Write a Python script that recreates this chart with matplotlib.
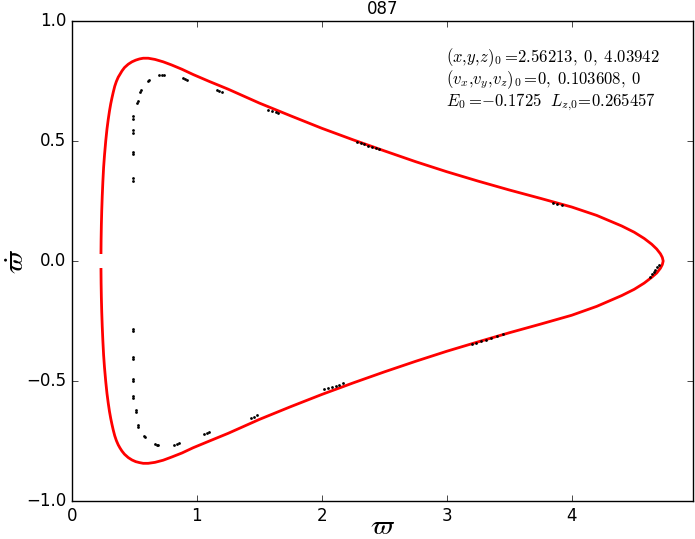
import matplotlib
matplotlib.use("Agg")
import matplotlib.pyplot as plt

# zero-velocity curve, upper branch (left end -> right tip)
upper_w = [0.232, 0.233, 0.235, 0.238, 0.242, 0.247, 0.253, 0.260, 0.270, 0.280,
           0.290, 0.300, 0.310, 0.320, 0.330, 0.342, 0.355, 0.370, 0.384, 0.400,
           0.420, 0.450, 0.480, 0.510, 0.540, 0.570, 0.610, 0.664, 0.730, 0.797,
           0.880, 0.970, 1.10, 1.25, 1.50, 1.75, 2.00, 2.25, 2.50, 2.75,
           3.00, 3.25, 3.50, 3.75, 4.00, 4.20, 4.40, 4.50, 4.58, 4.64,
           4.68, 4.71, 4.725, 4.732]
upper_wdot = [0.035, 0.09, 0.15, 0.21, 0.27, 0.33, 0.39, 0.44, 0.50, 0.55,
              0.59, 0.625, 0.655, 0.68, 0.703, 0.728, 0.748, 0.766, 0.778, 0.792,
              0.806, 0.820, 0.830, 0.837, 0.842, 0.845, 0.845, 0.840, 0.830, 0.817,
              0.799, 0.777, 0.748, 0.716, 0.658, 0.605, 0.553, 0.505, 0.459, 0.414,
              0.372, 0.333, 0.296, 0.261, 0.225, 0.190, 0.146, 0.120, 0.094, 0.070,
              0.050, 0.030, 0.015, 0.0]

# lower branch (right tip -> left end)
lower_w = [4.725, 4.71, 4.68, 4.64, 4.58, 4.50, 4.40, 4.20, 4.00, 3.75,
           3.50, 3.25, 3.00, 2.75, 2.50, 2.25, 2.00, 1.75, 1.50, 1.25,
           1.10, 0.970, 0.880, 0.797, 0.730, 0.664, 0.610, 0.570, 0.540, 0.510,
           0.480, 0.450, 0.420, 0.400, 0.384, 0.370, 0.355, 0.342, 0.330, 0.320,
           0.310, 0.300, 0.290, 0.280, 0.270, 0.260, 0.253, 0.247, 0.242, 0.238,
           0.235, 0.233, 0.232]
lower_wdot = [-0.015, -0.030, -0.050, -0.068, -0.092, -0.118, -0.144, -0.189, -0.226, -0.263,
              -0.299, -0.337, -0.376, -0.418, -0.462, -0.508, -0.556, -0.607, -0.660, -0.718,
              -0.750, -0.778, -0.800, -0.817, -0.830, -0.839, -0.843, -0.843, -0.840, -0.836,
              -0.829, -0.819, -0.805, -0.792, -0.779, -0.766, -0.748, -0.728, -0.704, -0.681,
              -0.656, -0.627, -0.592, -0.552, -0.502, -0.443, -0.392, -0.332, -0.272, -0.212,
              -0.152, -0.092, -0.035]

# surface of section crossings
sos_w = [0.49, 0.49, 0.49, 0.49, 0.49, 0.49, 0.49, 0.49,
         0.521, 0.525, 0.547, 0.552, 0.607, 0.613, 0.70, 0.72, 0.74, 0.89,
         0.905, 0.92, 1.16, 1.18, 1.20, 1.57, 1.60, 1.63, 1.65, 2.28,
         2.31, 2.34, 2.37, 2.40, 2.43, 2.46, 3.85, 3.88, 3.92, 4.625,
         4.64, 4.655, 4.67, 4.685, 4.695,
         0.49, 0.49, 0.49, 0.49, 0.49, 0.49, 0.49, 0.49,
         0.511, 0.514, 0.529, 0.532, 0.576, 0.582, 0.665, 0.68, 0.69, 0.82,
         0.84, 0.855, 1.06, 1.08, 1.10, 1.43, 1.455, 1.48, 2.02, 2.05,
         2.08, 2.11, 2.14, 2.17, 3.20, 3.23, 3.27, 3.31, 3.35, 3.40,
         3.45]
sos_wdot = [0.603, 0.593, 0.545, 0.535, 0.455, 0.445, 0.345, 0.335,
            0.658, 0.666, 0.706, 0.713, 0.750, 0.756, 0.776, 0.777, 0.777, 0.763,
            0.760, 0.756, 0.713, 0.709, 0.705, 0.630, 0.625, 0.620, 0.616, 0.497,
            0.492, 0.487, 0.481, 0.476, 0.471, 0.466, 0.241, 0.237, 0.232, -0.066,
            -0.056, -0.046, -0.036, -0.026, -0.018,
            -0.283, -0.293, -0.398, -0.408, -0.490, -0.500, -0.562, -0.572,
            -0.622, -0.630, -0.683, -0.690, -0.728, -0.735, -0.762, -0.765, -0.767, -0.765,
            -0.762, -0.759, -0.722, -0.718, -0.714, -0.654, -0.648, -0.642, -0.535, -0.530,
            -0.525, -0.520, -0.515, -0.510, -0.345, -0.341, -0.335, -0.328, -0.321, -0.313,
            -0.305]

title = "087"
info = [r"$(x{,}y{,}z)_0 =\!2.56213,\;0,\;4.03942$",
        r"$(v_x{,}v_y{,}v_z)_0 =\!0,\;0.103608,\;0$",
        r"$E_0 =\!{-}0.1725\ \ L_{z{,}0}\!=\!0.265457$"]
info_y = [0.9146, 0.8688, 0.8229]  # baselines, axes fraction

plt.style.use("classic")
plt.rcParams["mathtext.fontset"] = "cm"
plt.rcParams["font.size"] = 12

fig = plt.figure(figsize=(6.95, 5.39), dpi=100)
ax = fig.add_axes([0.1036, 0.0705, 0.8934, 0.8905])

ax.plot(upper_w + lower_w, upper_wdot + lower_wdot, color="red", lw=2)
ax.plot(sos_w, sos_wdot, "o", color="black", ms=2.0, mec="none")

ax.set_xlim(0, 4.97)
ax.set_ylim(-1, 1)
ax.set_xticks([0, 1, 2, 3, 4])
ax.set_yticks([-1.0, -0.5, 0.0, 0.5, 1.0])
ax.set_title(title, fontsize=12)
ax.set_xlabel(r"$\varpi$", fontsize=20)
ax.set_ylabel(r"$\dot{\varpi}$", fontsize=20)
ax.xaxis.set_label_coords(0.5, -0.022)
ax.yaxis.set_label_coords(-0.068, 0.5)

for line, yb in zip(info, info_y):
    ax.text(0.6023, yb, line, fontsize=12, va="baseline", ha="left",
            transform=ax.transAxes)

fig.savefig("out.png", dpi=100)
